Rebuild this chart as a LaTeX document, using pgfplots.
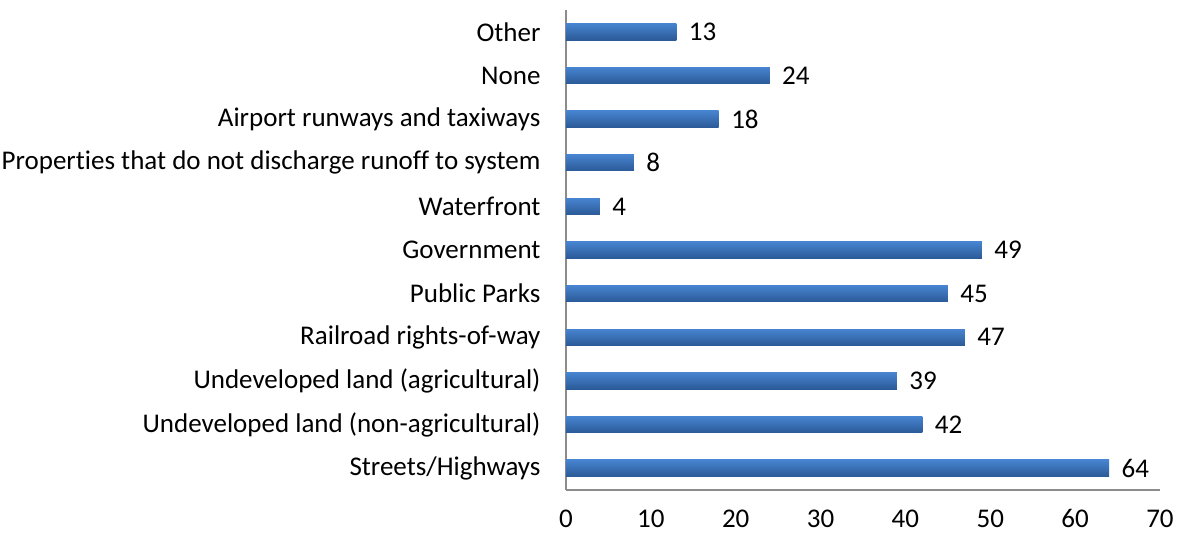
\documentclass[border=0pt]{standalone}
\usepackage{pgfplots}
\pgfplotsset{compat=1.18}
\usepackage{fontspec}
\setmainfont{Carlito}[Ligatures={NoCommon,NoContextual}]

\definecolor{bartop}{HTML}{4784D0}
\definecolor{barbot}{HTML}{2B5A97}
\definecolor{axgray}{HTML}{8C8C8C}

\begin{document}
\begin{tikzpicture}[x=1pt,y=1pt]
    \path[use as bounding box] (0,0) rectangle (1178,535);
    \begin{axis}[
        at={(566pt,45pt)}, anchor=south west,
        scale only axis,
        width=594pt, height=480pt,
        xbar, bar shift=0pt,
        xmin=0, xmax=70,
        ymin=-0.5, ymax=10.5,
        xtick={0,10,...,70},
        ytick={0,...,10},
        yticklabels={Streets/Highways, Undeveloped land (non-agricultural), Undeveloped land (agricultural), Railroad rights-of-way, Public Parks, Government, Waterfront, Properties that do not discharge runoff to system, Airport runways and taxiways, None, Other},
        axis x line*=bottom,
        axis y line*=left,
        axis line style={axgray, line width=1.2pt, -},
        tick style={draw=none},
        major tick length=0pt,
        x tick label style={yshift=-16pt},
        y tick label style={xshift=-22pt},
        ticklabel style={font=\fontsize{27}{31}\selectfont},
        /pgf/number format/assume math mode=true,
        bar width=16.5pt,
        every axis plot/.append style={draw=none, top color=bartop, bottom color=barbot},
        nodes near coords,
        nodes near coords style={font=\fontsize{27}{31}\selectfont, text=black, xshift=9pt},
    ]
        \addplot coordinates {(64,0)};
        \addplot coordinates {(42,1)};
        \addplot coordinates {(39,2)};
        \addplot coordinates {(47,3)};
        \addplot coordinates {(45,4)};
        \addplot coordinates {(49,5)};
        \addplot coordinates {(4,6)};
        \addplot coordinates {(8,7)};
        \addplot coordinates {(18,8)};
        \addplot coordinates {(24,9)};
        \addplot coordinates {(13,10)};
    \end{axis}
\end{tikzpicture}
\end{document}
